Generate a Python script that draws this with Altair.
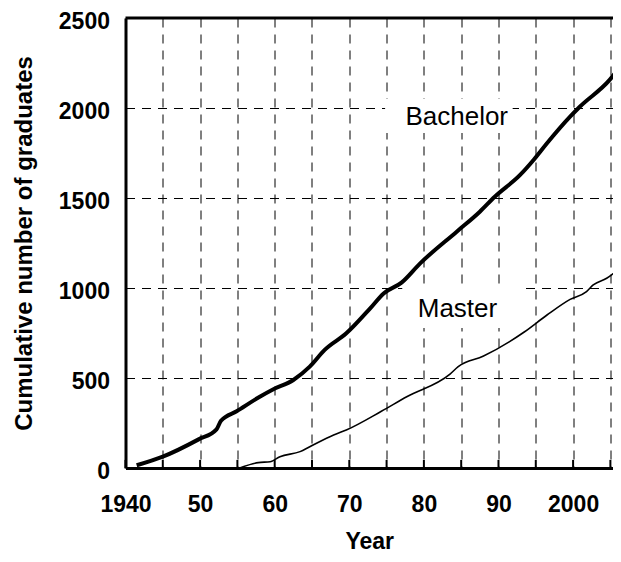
import altair as alt
import pandas as pd

# ---- data ----
bach_year = [1941.5, 1945.0, 1949.8, 1952.2, 1952.8, 1954.9, 1958.0, 1959.7, 1962.5, 1964.7,
             1966.7, 1969.6, 1972.8, 1974.6, 1977.0, 1979.5, 1984.4, 1987.5, 1989.5, 1992.9,
             1994.7, 1996.5, 1999.6, 2000.9, 2004.9, 2006.4]
bach_val = [15, 63, 159, 215, 262, 315, 396, 435, 489, 563,
            656, 748, 887, 970, 1030, 1137, 1313, 1424, 1507, 1628,
            1711, 1804, 1952, 2007, 2156, 2235]

mast_year = [1955.3, 1957.8, 1959.4, 1960.7, 1963.4, 1964.7, 1967.9, 1969.6, 1974.3, 1977.7,
             1983.5, 1984.6, 1988.0, 1993.5, 1996.5, 1999.6, 2001.8, 2002.7, 2004.5, 2006.4]
mast_val = [0, 30, 35, 63, 91, 118, 183, 211, 315, 396,
            522, 563, 622, 757, 850, 937, 980, 1017, 1054, 1115]

label_text = ["Bachelor", "Master"]
label_year = [1984.4, 1984.5]
label_val = [1950, 883]
box_x1 = [1974.8, 1977.1]
box_x2 = [1991.9, 1993.3]
box_y1 = [1861, 778]
box_y2 = [2050, 1006]

grid_years = list(range(1940, 2006, 5))
y_ticks = [0, 500, 1000, 1500, 2000, 2500]

X_DOMAIN = [1940, 2005.35]
Y_DOMAIN = [0, 2500]
FONT = "Liberation Sans"

df_b = pd.DataFrame({"year": bach_year, "val": bach_val})
df_m = pd.DataFrame({"year": mast_year, "val": mast_val})
df_lab = pd.DataFrame({"text": label_text, "year": label_year, "val": label_val,
                       "x1": box_x1, "x2": box_x2, "y1": box_y1, "y2": box_y2})
df_ticks = pd.DataFrame({"year": grid_years, "y0": [0] * len(grid_years),
                         "y1": [45] * len(grid_years)})
df_top = pd.DataFrame({"x1": [X_DOMAIN[0]], "x2": [X_DOMAIN[1]], "y": [Y_DOMAIN[1]]})

xscale = alt.Scale(domain=X_DOMAIN, nice=False, zero=False)
yscale = alt.Scale(domain=Y_DOMAIN, nice=False)

xaxis = alt.Axis(
    values=grid_years, title="Year", format="d",
    labelExpr="datum.value % 10 != 0 ? '' : (datum.value == 1940 || datum.value == 2000 ? datum.label : substring(datum.label, 2, 4))",
    labelFont=FONT, labelFontSize=23, labelFontWeight="bold", labelColor="black",
    labelPadding=25, labelOverlap=False, labelFlush=False,
    ticks=False, tickSize=0,
    domainColor="black", domainWidth=3,
    grid=True, gridColor="black", gridWidth=1, gridDash=[9, 7], gridOpacity=1,
    titleFont=FONT, titleFontSize=23, titleFontWeight="bold", titleColor="black",
    titleY=85, titleBaseline="bottom",
)
yaxis = alt.Axis(
    values=y_ticks, title="Cumulative number of graduates",
    labelFont=FONT, labelFontSize=23, labelFontWeight="bold", labelColor="black",
    labelPadding=16, labelOffset=3, format="d",
    ticks=False, tickSize=0,
    domainColor="black", domainWidth=3,
    grid=True, gridColor="black", gridWidth=1, gridDash=[9, 7], gridOpacity=1,
    titleFont=FONT, titleFontSize=24, titleFontWeight="bold", titleColor="black",
    titlePadding=22,
)

base_x = alt.X("year:Q", scale=xscale, axis=xaxis)
base_y = alt.Y("val:Q", scale=yscale, axis=yaxis)

boxes = alt.Chart(df_lab).mark_rect(color="white").encode(
    x=alt.X("x1:Q", scale=xscale, axis=xaxis), x2="x2:Q",
    y=alt.Y("y1:Q", scale=yscale, axis=yaxis), y2="y2:Q")

bach = alt.Chart(df_b).mark_line(color="black", strokeWidth=4, interpolate="monotone",
                                 clip=True).encode(x=base_x, y=base_y)
mast = alt.Chart(df_m).mark_line(color="black", strokeWidth=1.6, interpolate="monotone",
                                 clip=True).encode(x=base_x, y=base_y)

ticks = alt.Chart(df_ticks).mark_rule(color="black", strokeWidth=2).encode(
    x=alt.X("year:Q", scale=xscale, axis=xaxis),
    y=alt.Y("y0:Q", scale=yscale, axis=yaxis), y2="y1:Q")

top = alt.Chart(df_top).mark_rule(color="black", strokeWidth=3).encode(
    x=alt.X("x1:Q", scale=xscale, axis=xaxis), x2="x2:Q",
    y=alt.Y("y:Q", scale=yscale, axis=yaxis))

texts = alt.Chart(df_lab).mark_text(font=FONT, fontSize=26, color="black",
                                    align="center", baseline="middle").encode(
    x=alt.X("year:Q", scale=xscale, axis=xaxis),
    y=alt.Y("val:Q", scale=yscale, axis=yaxis), text="text:N")

chart = alt.layer(boxes, ticks, mast, bach, top, texts).properties(
    width=487.5, height=450,
    autosize=alt.AutoSizeParams(type="none"),
    padding={"left": 117.5, "top": 10, "right": 0, "bottom": 86},
    background="white",
).configure_view(stroke=None)

chart.save("out.html", embed_options={"renderer": "svg", "actions": False})
